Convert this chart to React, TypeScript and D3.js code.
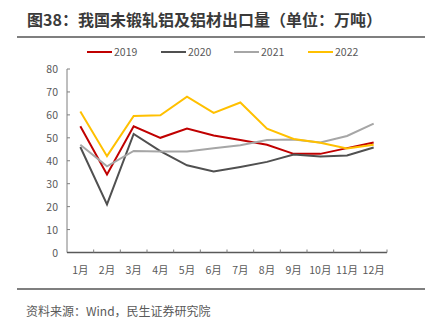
import React from "react";
import * as d3 from "d3";

const months = ["1月","2月","3月","4月","5月","6月","7月","8月","9月","10月","11月","12月"];
const s2019 = [55, 34, 55, 50, 54, 51, 49, 47, 43, 43, 45.5, 48];
const s2020 = [46, 21, 51.7, 44.2, 38, 35.3, 37.3, 39.5, 42.7, 41.8, 42.3, 45.8];
const s2021 = [47, 37.6, 44.3, 44, 44, 45.5, 46.8, 49, 49.3, 48, 50.8, 56.2];
const s2022 = [61.5, 42, 59.5, 59.8, 67.9, 60.9, 65.4, 54, 49.5, 47.8, 45.3, 47];
const yTicks = [0, 10, 20, 30, 40, 50, 60, 70, 80];
const seriesNames = ["2019", "2020", "2021", "2022"];
const seriesColors = ["#C00000", "#505050", "#A6A6A6", "#FFC000"];

export default function App() {
  const W = 430, H = 325;
  const x = d3.scaleBand<string>().domain(months).range([67, 387]);
  const y = d3.scaleLinear().domain([0, 80]).range([252.5, 69]);
  const line = d3.line<number>()
    .x((_, i) => (x(months[i]) as number) + x.bandwidth() / 2)
    .y((d) => y(d));
  const all = [s2019, s2020, s2021, s2022];
  const legendX = [87, 161, 234, 308];
  const axisColor = "#7F7F7F";
  const font = "'Noto Sans CJK SC', 'Noto Sans', sans-serif";
  return (
    <svg width={W} height={H} style={{ position: "absolute", left: 0, top: 0, background: "#fff" }}>
      <text x={27} y={26} fontFamily={font} fontWeight="bold" fontSize={16} fill="#3A3A3A">
        图38：我国未锻轧铝及铝材出口量（单位：万吨）
      </text>
      <line x1={17} x2={425} y1={37} y2={37} stroke="#555" strokeWidth={1.5} />
      {seriesNames.map((n, i) => (
        <g key={n}>
          <line x1={legendX[i]} x2={legendX[i] + 25} y1={52} y2={52} stroke={seriesColors[i]} strokeWidth={2} />
          <text x={legendX[i] + 27} y={56} fontFamily={font} fontSize={10.5} fill="#595959">{n}</text>
        </g>
      ))}
      <line x1={67} x2={67} y1={y(80)} y2={y(0)} stroke={axisColor} strokeWidth={1} />
      {yTicks.map((t) => (
        <g key={t}>
          <line x1={67} x2={70} y1={y(t)} y2={y(t)} stroke={axisColor} />
          <text x={58} y={y(t) + 4} textAnchor="end" fontFamily={font} fontSize={10.5} fill="#595959">{t}</text>
        </g>
      ))}
      <line x1={67} x2={387} y1={y(0)} y2={y(0)} stroke="#595959" strokeWidth={1.5} />
      {months.map((m, i) => (
        <g key={m}>
          {i > 0 && <line x1={x(m) as number} x2={x(m) as number} y1={y(0)} y2={y(0) - 3} stroke={axisColor} />}
          <text x={(x(m) as number) + x.bandwidth() / 2} y={274} textAnchor="middle" fontFamily={font} fontSize={10.5} fill="#595959">{m}</text>
        </g>
      ))}
      <line x1={387} x2={387} y1={y(0)} y2={y(0) - 3} stroke={axisColor} />
      {all.map((s, i) => (
        <path key={i} d={line(s) || ""} fill="none" stroke={seriesColors[i]} strokeWidth={2} strokeLinejoin="miter" />
      ))}
      <line x1={17} x2={425} y1={289} y2={289} stroke="#555" strokeWidth={1.5} />
      <text x={26} y={316} fontFamily={font} fontSize={12} fill="#595959">资料来源：Wind，民生证券研究院</text>
    </svg>
  );
}
